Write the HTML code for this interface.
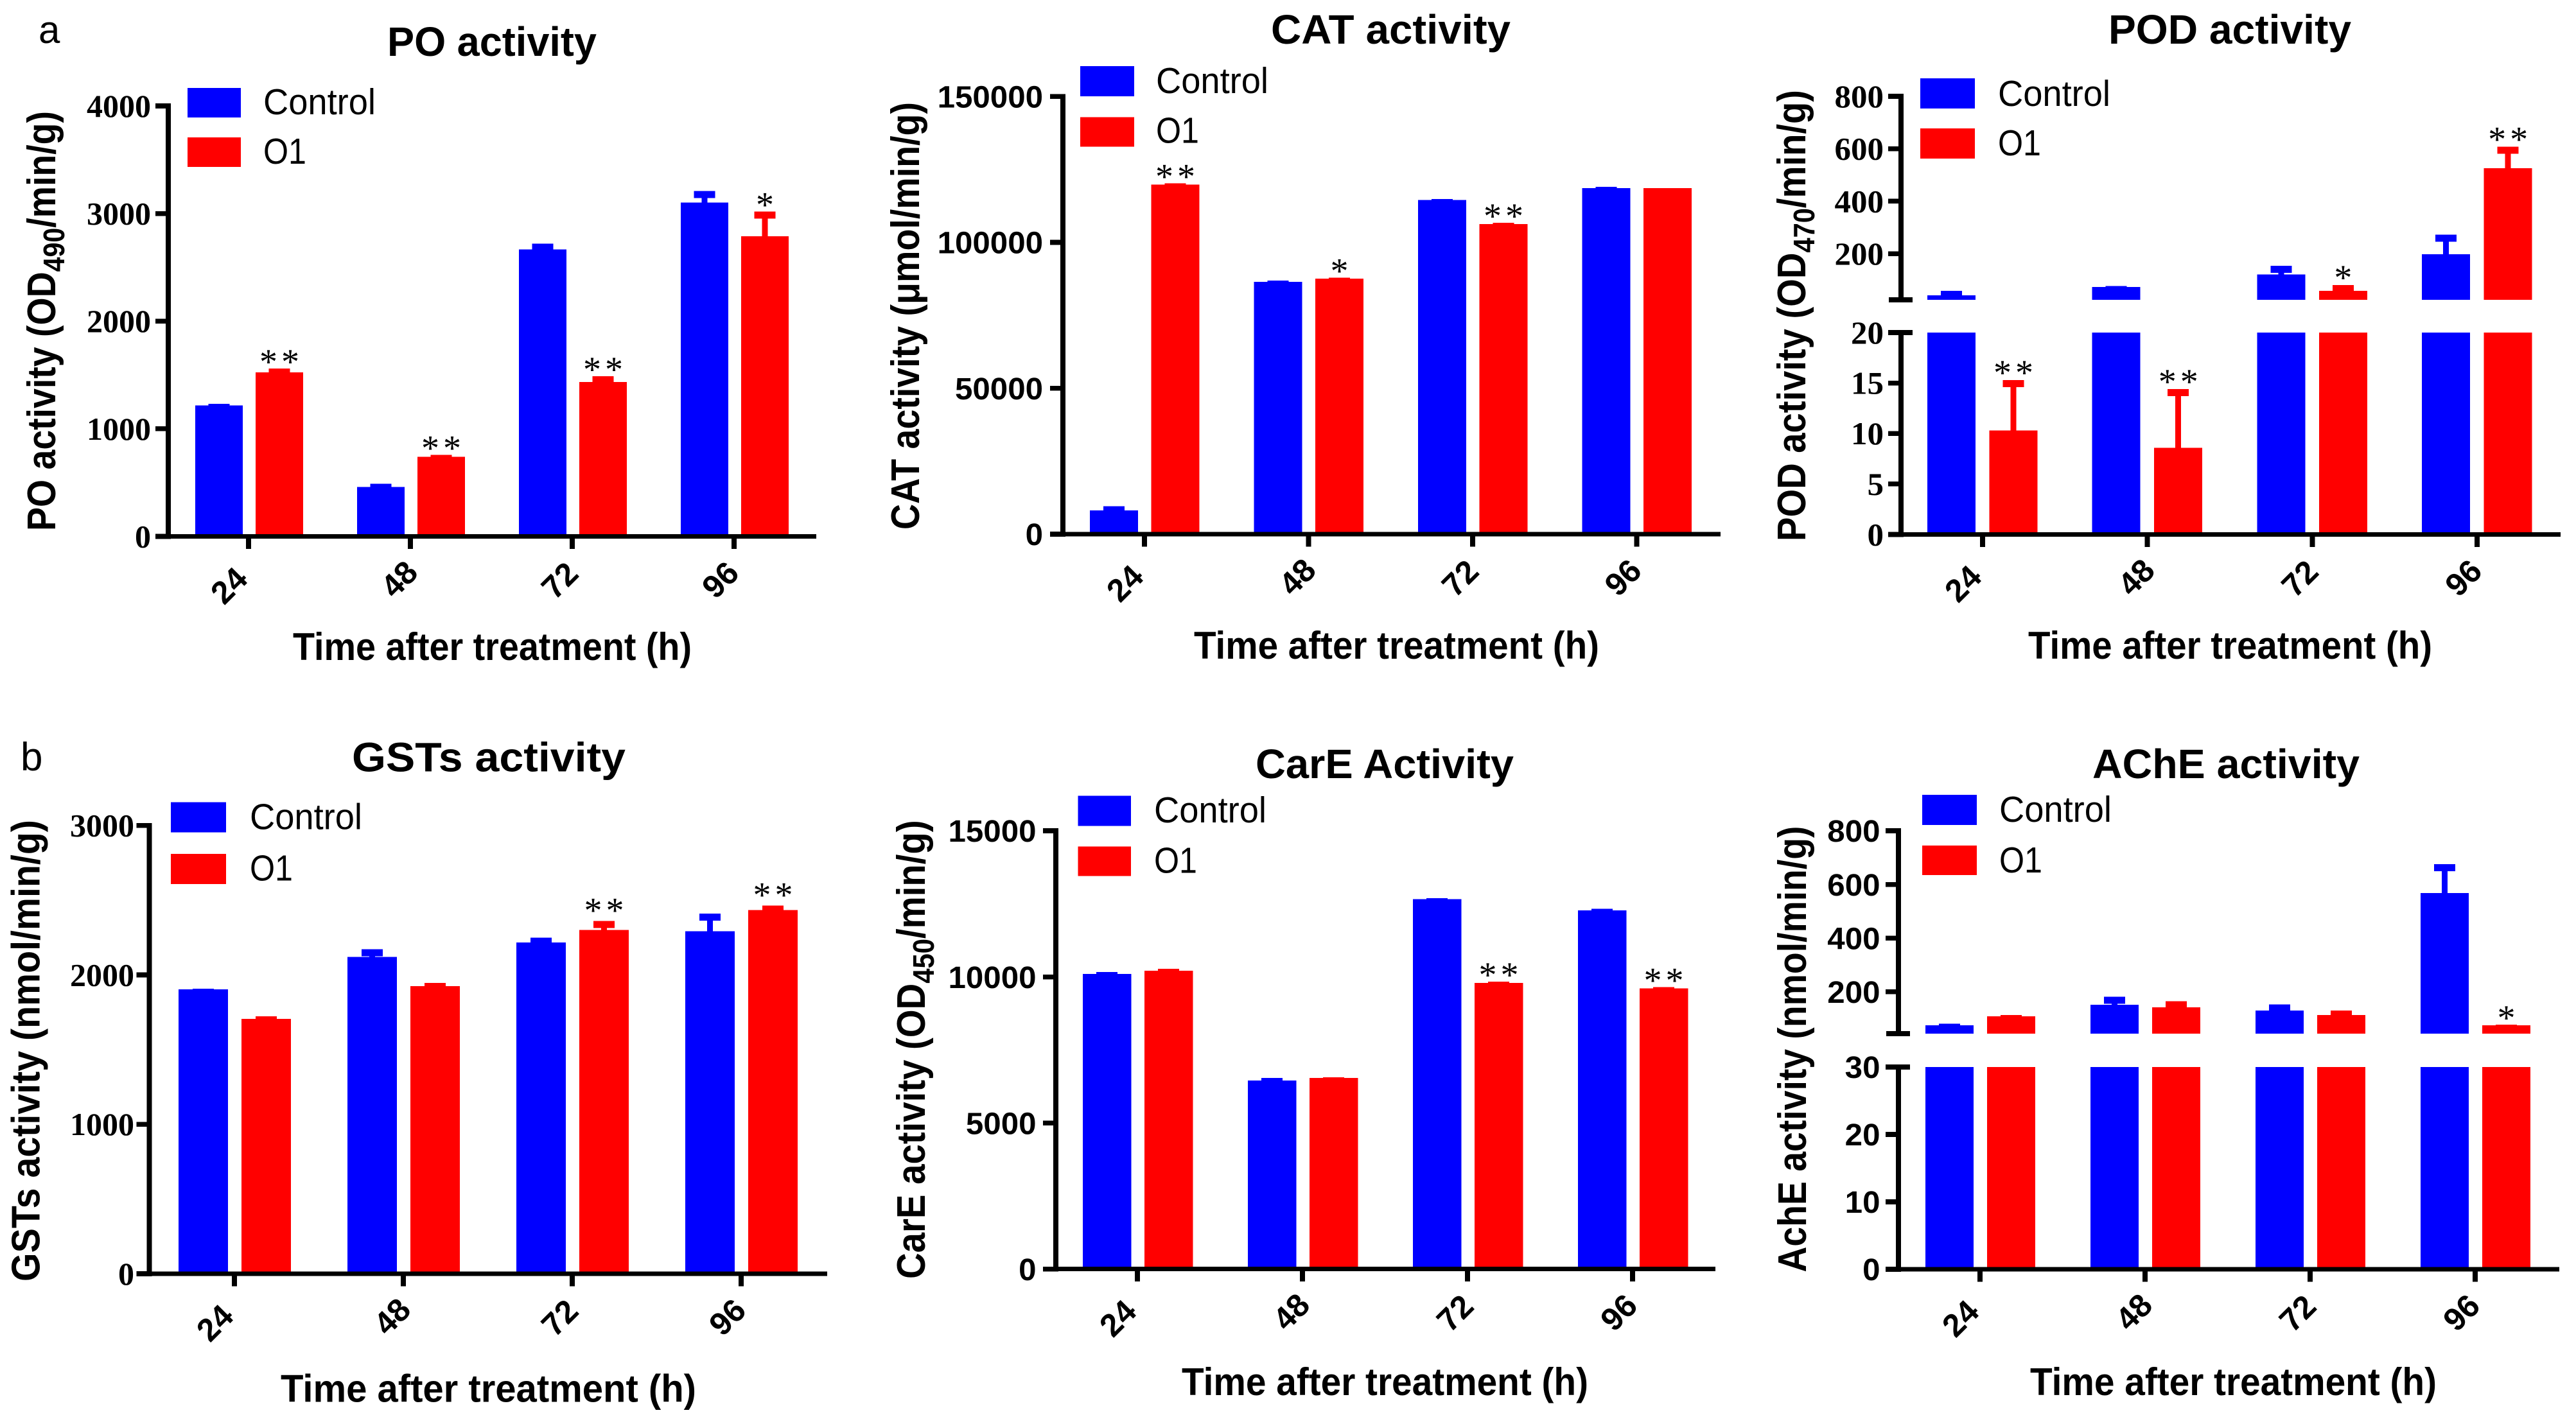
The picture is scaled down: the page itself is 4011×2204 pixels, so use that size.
<!DOCTYPE html>
<html lang="en">
<head>
<meta charset="utf-8">
<title>Enzyme activity after treatment</title>
<style>
html,body{margin:0;padding:0;background:#fff;}
svg{display:block;}
text{font-family:"Liberation Sans",sans-serif;fill:#000;}
</style>
</head>
<body>
<svg id="figure" xmlns="http://www.w3.org/2000/svg" width="4011" height="2204" viewBox="0 0 4011 2204">
<rect x="0" y="0" width="4011" height="2204" fill="#ffffff"/>
<text x="60" y="67" font-size="60">a</text>
<text x="32" y="1200" font-size="62">b</text>
</svg>
<script>
// Shared categories and legend
const categories = ["24", "48", "72", "96"];
const seriesNames = ["Control", "O1"];

// PO activity
const poControl = [1216, 460, 2667, 3101];
const poControlErr = [17, 29, 54, 109];
const poO1 = [1525, 740, 1434, 2788];
const poO1Err = [34, 17, 54, 230];
const poStars = [2, 2, 2, 1];
const poYTicks = [0, 1000, 2000, 3000, 4000];

// CAT activity
const catControl = [8170, 86500, 114550, 118560];
const catControlErr = [1390, 460, 310, 440];
const catO1 = [119800, 87570, 106230, 118560];
const catO1Err = [460, 310, 470, 0];
const catStars = [2, 1, 2, 0];
const catYTicks = [0, 50000, 100000, 150000];

// POD activity (broken axis)
const podControl = [41, 73.5, 121, 198];
const podControlErr = [17, 3.5, 33, 75];
const podO1 = [10.3, 8.6, 58, 526];
const podO1Err = [5, 5.8, 22, 82];
const podStars = [2, 2, 1, 2];
const podLowTicks = [0, 5, 10, 15, 20];
const podHighTicks = [200, 400, 600, 800];

// GSTs activity
const gstControl = [1904, 2120, 2217, 2292];
const gstControlErr = [3, 52, 33, 118];
const gstO1 = [1705, 1925, 2301, 2434];
const gstO1Err = [18, 21, 60, 30];
const gstStars = [0, 0, 2, 2];
const gstYTicks = [0, 1000, 2000, 3000];

// CarE activity
const careControl = [10100, 6452, 12658, 12273];
const careControlErr = [63, 92, 31, 62];
const careO1 = [10209, 6544, 9794, 9609];
const careO1Err = [62, 16, 46, 46];
const careStars = [0, 0, 2, 2];
const careYTicks = [0, 5000, 10000, 15000];

// AChE activity (broken axis)
const acheControl = [75, 152, 130, 568];
const acheControlErr = [6, 30, 23, 107];
const acheO1 = [108, 142, 113, 75];
const acheO1Err = [5, 23, 17, 3];
const acheStars = [0, 0, 0, 1];
const acheLowTicks = [0, 10, 20, 30];
const acheHighTicks = [200, 400, 600, 800];

const SVGNS = "http://www.w3.org/2000/svg";
const root = document.getElementById("figure");
const SERIF = '"Liberation Serif",serif';
const SANS = '"Liberation Sans",sans-serif';

function tag(parent, type, name, attrs) {
  const el = document.createElementNS(SVGNS, type);
  
  
  for (const k in attrs) el.setAttribute(k, attrs[k]);
  parent.appendChild(el);
  return el;
}
function box(parent, name, x1, y1, x2, y2, fill) {
  return tag(parent, "rect", name, {
    x: Math.min(x1, x2), y: Math.min(y1, y2),
    width: Math.abs(x2 - x1), height: Math.abs(y2 - y1),
    fill: fill, "shape-rendering": "crispEdges"
  });
}
function label(parent, name, str, attrs) {
  const el = tag(parent, "text", name, attrs);
  el.textContent = str;
  return el;
}

function drawChart(c) {
  const g = tag(root, "g", c.id + "-chart", {});
  const hasBreak = c.lowMax !== undefined;

  function yLow(v) { return c.y0 - v / c.lowMax * (c.y0 - c.yLowTop); }
  function yHigh(v) { return c.yBreak - (v - c.highMin) / (c.highMax - c.highMin) * (c.yBreak - c.yTop); }
  function yLinear(v) { return c.y0 - v / c.max * (c.y0 - c.yTop); }
  function yScale(v) {
    if (!hasBreak) return yLinear(v);
    return v <= c.lowMax ? yLow(v) : yHigh(v);
  }
  function xScale(i) { return c.xFirst + i * c.xStep; }

  // title
  label(g, c.id + "-title", c.title, {
    x: c.titleX[0], y: c.titleY, "font-size": 64, "font-weight": "bold",
    textLength: c.titleX[1] - c.titleX[0], lengthAdjust: "spacingAndGlyphs"
  });

  // bars, error bars, significance stars
  [[c.control, c.controlErr, "#0000ff", c.blueOff, seriesNames[0].toLowerCase()],
   [c.o1, c.o1Err, "#ff0000", c.redOff, seriesNames[1].toLowerCase()]].forEach(function (s, si) {
    s[0].forEach(function (v, i) {
      const cx = xScale(i) + s[3];
      const left = cx - c.barW / 2, right = cx + c.barW / 2;
      const nm = c.id + "-bar-" + s[4] + "-" + categories[i];
      const top = v + s[1][i];
      if (hasBreak) {
        box(g, nm + "-lower", left, yLow(Math.min(v, c.lowMax)), right, c.y0, s[2]);
        if (v > c.lowMax) box(g, nm + "-upper", left, yHigh(v), right, c.yBreak, s[2]);
      } else {
        box(g, nm, left, yScale(v), right, c.y0, s[2]);
      }
      const yv = yScale(v), yt = yScale(top);
      if (yv - yt > 0.2) {
        const capH = Math.min(11, yv - yt);
        box(g, nm + "-error-stem", cx - 4.5, yt, cx + 4.5, yv, s[2]);
        box(g, nm + "-error-cap", cx - 16.5, yt, cx + 16.5, yt + capH, s[2]);
      }
      if (si === 1 && c.stars[i] > 0) {
        const n = c.stars[i];
        const sy = yt - c.starGap + 27;
        const sx = n === 2 ? [cx - 17, cx + 17] : [cx];
        sx.forEach(function (px) {
          label(g, c.id + "-significance-star-" + categories[i], "*", {
            x: px, y: sy, "text-anchor": "middle", "font-size": 56
          }).style.fontFamily = SERIF;
        });
      }
    });
  });

  // y axis
  const ax = c.axisX;
  if (hasBreak) {
    box(g, c.id + "-y-axis-upper", ax - 4, c.yTop - 4, ax + 4, c.yBreak + 4, "#000");
    box(g, c.id + "-y-axis-lower", ax - 4, c.yLowTop - 4, ax + 4, c.y0 + 4, "#000");
    box(g, c.id + "-y-axis-break-tick-upper", ax - 19, c.yBreak - 4, ax + 18, c.yBreak + 4, "#000");
    box(g, c.id + "-y-axis-break-tick-lower", ax - 19, c.yLowTop - 4, ax + 18, c.yLowTop + 4, "#000");
  } else {
    box(g, c.id + "-y-axis", ax - 4, c.yTop - 4, ax + 4, c.y0 + 4, "#000");
  }
  function yTick(v, y) {
    box(g, c.id + "-y-tick-" + v, ax - 20, y - 3.8, ax, y + 3.8, "#000");
    const str = String(v);
    label(g, c.id + "-y-tick-label-" + v, str, {
      x: c.tickRight, y: y + c.tickSize * c.tickBase, "text-anchor": "end",
      "font-size": c.tickSize, "font-weight": "bold",
      textLength: str.length * c.digitW, lengthAdjust: "spacingAndGlyphs"
    }).style.fontFamily = c.tickFont;
  }
  if (hasBreak) {
    c.lowTicks.forEach(function (v) { yTick(v, yLow(v)); });
    c.highTicks.forEach(function (v) { yTick(v, yHigh(v)); });
  } else {
    c.yTicks.forEach(function (v) { yTick(v, yLinear(v)); });
  }

  // x axis
  const labelNudge = { "24": [-31, 76], "48": [-18, 66], "72": [-20, 68], "96": [-22, 67] };
  box(g, c.id + "-x-axis", ax - 20, c.y0 - 3.5, c.xEnd, c.y0 + 3.5, "#000");
  categories.forEach(function (cat, i) {
    const x = xScale(i);
    box(g, c.id + "-x-tick-" + cat, x - 4, c.y0, x + 4, c.y0 + 19.5, "#000");
    label(g, c.id + "-x-tick-label-" + cat, cat, {
      transform: "translate(" + (x + labelNudge[cat][0]) + " " + (c.y0 + labelNudge[cat][1]) + ") rotate(-45)",
      y: 18, "text-anchor": "middle", "font-size": 50, "font-weight": "bold"
    });
  });

  // axis titles
  const yl = tag(g, "text", c.id + "-y-axis-title", {
    transform: "translate(" + c.yLabelX + " " + c.yLabelY[1] + ") rotate(-90)",
    "font-size": 62, "font-weight": "bold",
    textLength: c.yLabelY[1] - c.yLabelY[0], lengthAdjust: "spacingAndGlyphs"
  });
  c.yLabel.forEach(function (part) {
    const sp = document.createElementNS(SVGNS, "tspan");
    if (part[1]) {
      sp.setAttribute("font-size", "46");
      sp.setAttribute("dy", "14");
    } else if (part[2]) {
      sp.setAttribute("dy", "-14");
    }
    sp.textContent = part[0];
    yl.appendChild(sp);
  });
  label(g, c.id + "-x-axis-title", "Time after treatment (h)", {
    x: c.xLabelX[0], y: c.xLabelY, "font-size": 60, "font-weight": "bold",
    textLength: c.xLabelX[1] - c.xLabelX[0], lengthAdjust: "spacingAndGlyphs"
  });

  // legend
  box(g, c.id + "-legend-swatch-control", c.legX[0], c.legY[0], c.legX[1], c.legY[1], "#0000ff");
  box(g, c.id + "-legend-swatch-o1", c.legX[0], c.legY[2], c.legX[1], c.legY[3], "#ff0000");
  label(g, c.id + "-legend-label-control", seriesNames[0], {
    x: c.legTextX, y: c.legBase[0], "font-size": 57,
    textLength: 175, lengthAdjust: "spacingAndGlyphs"
  });
  label(g, c.id + "-legend-label-o1", seriesNames[1], {
    x: c.legTextX, y: c.legBase[1], "font-size": 57,
    textLength: 67, lengthAdjust: "spacingAndGlyphs"
  });
}

drawChart({
  id: "po", title: "PO activity", titleX: [603, 929], titleY: 87,
  control: poControl, controlErr: poControlErr, o1: poO1, o1Err: poO1Err, stars: poStars,
  yTicks: poYTicks, max: 4000, y0: 835.5, yTop: 165,
  axisX: 262, xFirst: 387, xStep: 252, xEnd: 1271, barW: 74, blueOff: -46, redOff: 48, starGap: 19,
  tickRight: 235, tickSize: 50, tickBase: 0.338, digitW: 25, tickFont: SERIF,
  yLabel: [["PO activity (OD"], ["490", true], ["/min/g)", false, true]], yLabelX: 86, yLabelY: [173, 827],
  xLabelX: [456, 1077], xLabelY: 1028,
  legX: [292, 375], legY: [137, 183, 214, 260], legTextX: 410, legBase: [178, 255]
});
drawChart({
  id: "cat", title: "CAT activity", titleX: [1979, 2352], titleY: 68,
  control: catControl, controlErr: catControlErr, o1: catO1, o1Err: catO1Err, stars: catStars,
  yTicks: catYTicks, max: 150000, y0: 832, yTop: 150.3,
  axisX: 1655, xFirst: 1782, xStep: 255.5, xEnd: 2679, barW: 75, blueOff: -47.5, redOff: 48, starGap: 19,
  tickRight: 1624, tickSize: 48, tickBase: 0.358, digitW: 27.4, tickFont: SANS,
  yLabel: [["CAT activity (μmol/min/g)"]], yLabelX: 1431, yLabelY: [159, 825],
  xLabelX: [1859, 2490], xLabelY: 1026,
  legX: [1682, 1766], legY: [103, 150, 182.5, 228.7], legTextX: 1800, legBase: [145, 222.4]
});
drawChart({
  id: "pod", title: "POD activity", titleX: [3283, 3661], titleY: 68,
  control: podControl, controlErr: podControlErr, o1: podO1, o1Err: podO1Err, stars: podStars,
  lowTicks: podLowTicks, highTicks: podHighTicks, lowMax: 20, highMin: 24, highMax: 800,
  y0: 832.5, yLowTop: 518, yBreak: 467, yTop: 150,
  axisX: 2960, xFirst: 3087, xStep: 256.7, xEnd: 3987, barW: 75, blueOff: -48.5, redOff: 48, starGap: 20,
  tickRight: 2933, tickSize: 50, tickBase: 0.338, digitW: 25.5, tickFont: SERIF,
  yLabel: [["POD activity (OD"], ["470", true], ["/min/g)", false, true]], yLabelX: 2811, yLabelY: [140, 843],
  xLabelX: [3158, 3787], xLabelY: 1026,
  legX: [2990, 3075], legY: [122, 169, 200, 247], legTextX: 3111, legBase: [165, 242]
});
drawChart({
  id: "gsts", title: "GSTs activity", titleX: [548, 974], titleY: 1201.7,
  control: gstControl, controlErr: gstControlErr, o1: gstO1, o1Err: gstO1Err, stars: gstStars,
  yTicks: gstYTicks, max: 3000, y0: 1984, yTop: 1285.8,
  axisX: 232.5, xFirst: 365, xStep: 263, xEnd: 1288, barW: 77, blueOff: -48.5, redOff: 49.5, starGap: 25,
  tickRight: 209, tickSize: 50, tickBase: 0.338, digitW: 25, tickFont: SERIF,
  yLabel: [["GSTs activity (nmol/min/g)"]], yLabelX: 61.5, yLabelY: [1277, 1996],
  xLabelX: [437, 1084], xLabelY: 2183.5,
  legX: [266, 352], legY: [1249.4, 1296.3, 1330, 1377], legTextX: 389, legBase: [1291.4, 1371.3]
});
drawChart({
  id: "care", title: "CarE Activity", titleX: [1955, 2357], titleY: 1212,
  control: careControl, controlErr: careControlErr, o1: careO1, o1Err: careO1Err, stars: careStars,
  yTicks: careYTicks, max: 15000, y0: 1976.7, yTop: 1294,
  axisX: 1644, xFirst: 1771, xStep: 257, xEnd: 2671, barW: 75.5, blueOff: -47.5, redOff: 48.5, starGap: 19,
  tickRight: 1613.5, tickSize: 48, tickBase: 0.358, digitW: 27.4, tickFont: SANS,
  yLabel: [["CarE activity (OD"], ["450", true], ["/min/g)", false, true]], yLabelX: 1440, yLabelY: [1277.4, 1992],
  xLabelX: [1840, 2473], xLabelY: 2173,
  legX: [1678.5, 1761], legY: [1239.5, 1286.5, 1318.7, 1364.3], legTextX: 1797, legBase: [1281, 1359.4]
});
drawChart({
  id: "ache", title: "AChE activity", titleX: [3258, 3674], titleY: 1212,
  control: acheControl, controlErr: acheControlErr, o1: acheO1, o1Err: acheO1Err, stars: acheStars,
  lowTicks: acheLowTicks, highTicks: acheHighTicks, lowMax: 30, highMin: 44, highMax: 800,
  y0: 1977, yLowTop: 1662, yBreak: 1610, yTop: 1294,
  axisX: 2956, xFirst: 3083, xStep: 257, xEnd: 3985, barW: 75, blueOff: -47.5, redOff: 48.5, starGap: 19,
  tickRight: 2927.5, tickSize: 48, tickBase: 0.358, digitW: 27.4, tickFont: SANS,
  yLabel: [["AchE activity (nmol/min/g)"]], yLabelX: 2812, yLabelY: [1286.5, 1981.6],
  xLabelX: [3161, 3794], xLabelY: 2173,
  legX: [2993, 3078], legY: [1238, 1285, 1317, 1363], legTextX: 3113, legBase: [1280, 1359]
});
</script>
</body>
</html>
